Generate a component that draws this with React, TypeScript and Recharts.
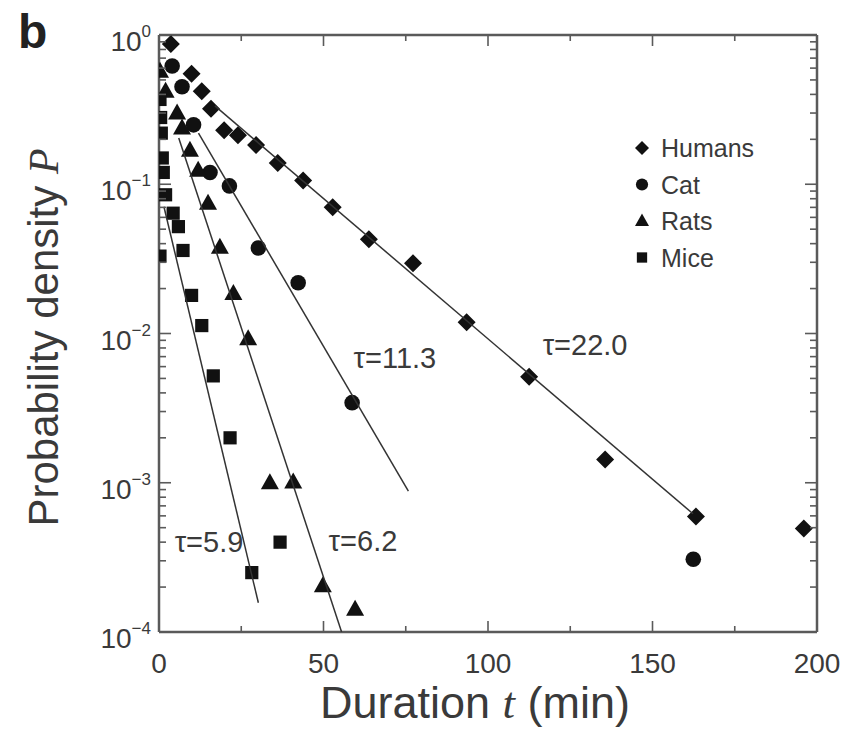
import React from 'react';
import { ComposedChart, Scatter, XAxis, YAxis, Legend, ReferenceDot, Label } from 'recharts';

// ---------------- data ----------------
const humansT = [3.6, 9.9, 13.0, 15.8, 19.8, 24.0, 29.5, 36.1, 43.8, 52.8, 63.8, 77.2, 93.5, 112.5, 135.6, 163.2, 196.0];
const humansP = [0.87, 0.55, 0.42, 0.32, 0.23, 0.213, 0.183, 0.139, 0.106, 0.070, 0.0428, 0.0296, 0.0119, 0.00514, 0.00143, 0.000594, 0.000493];

const catT = [4.0, 7.0, 10.5, 15.5, 21.4, 30.2, 42.3, 58.7, 162.4];
const catP = [0.62, 0.45, 0.25, 0.12, 0.0975, 0.0374, 0.0219, 0.00344, 0.000307];

const ratsT = [0.3, 2.0, 5.5, 7.0, 9.4, 11.9, 14.9, 18.5, 22.6, 27.1, 33.7, 40.8, 49.8, 59.6];
const ratsP = [0.57, 0.42, 0.30, 0.238, 0.169, 0.124, 0.0745, 0.0378, 0.0185, 0.0092, 0.00100, 0.00101, 0.000204, 0.000142];

const miceT = [0.3, 0.5, 0.7, 1.0, 1.3, 2.0, 4.3, 5.9, 7.3, 0.3, 9.9, 13.0, 16.5, 21.6, 28.2, 36.8];
const miceP = [0.37, 0.28, 0.22, 0.15, 0.12, 0.085, 0.064, 0.052, 0.036, 0.033, 0.018, 0.0113, 0.0052, 0.0020, 0.00025, 0.00040];

// exponential fit lines (end points)
const humansFitT = [17, 162.3];
const humansFitP = [0.335, 0.00062];
const catFitT = [12, 75.8];
const catFitP = [0.22, 0.00088];
const ratsFitT = [6, 55.5];
const ratsFitP = [0.204, 0.0001];
const miceFitT = [1.5, 30.2];
const miceFitP = [0.0707, 0.000157];

// annotations
const tauText = ['\u03C4=22.0', '\u03C4=11.3', '\u03C4=6.2', '\u03C4=5.9'];
const tauT = [129.5, 71.7, 62, 15.2];
const tauP = [0.0084, 0.0069, 0.000408, 0.000402];

// ticks
const xMajorTicks = [0, 50, 100, 150, 200];
const xMinorTicks = [25, 75, 125, 175];
const yDecades = [0.0001, 0.001, 0.01, 0.1, 1];
const yMinorMult = [2, 3, 4, 5, 6, 7, 8, 9];

const seriesNames = ['Humans', 'Cat', 'Rats', 'Mice'];

// ---------------- helpers ----------------
const FONT = '"Liberation Sans", Arial, Helvetica, sans-serif';
const TEXT = '#3a3a3a';
const INK = '#111';
const AXIS = '#5a5a5a';
const FIT = '#333';

const toPts = (ts: number[], ps: number[]) => ts.map((t, i) => ({ t, p: ps[i] }));

const humans = toPts(humansT, humansP);
const cat = toPts(catT, catP);
const rats = toPts(ratsT, ratsP);
const mice = toPts(miceT, miceP);
const humansFit = toPts(humansFitT, humansFitP);
const catFit = toPts(catFitT, catFitP);
const ratsFit = toPts(ratsFitT, ratsFitP);
const miceFit = toPts(miceFitT, miceFitP);

const xTicks = [...xMajorTicks, ...xMinorTicks].sort((a, b) => a - b);
const yTicks: number[] = [];
yDecades.forEach((d, i) => {
  yTicks.push(d);
  if (i < yDecades.length - 1) yMinorMult.forEach((m) => yTicks.push(m * d));
});

type Kind = 'diamond' | 'circle' | 'triangle' | 'square';
const kindOf: Record<string, Kind> = { Humans: 'diamond', Cat: 'circle', Rats: 'triangle', Mice: 'square' };

function Marker({ kind, cx, cy, s = 1 }: { kind: Kind; cx: number; cy: number; s?: number }) {
  if (kind === 'diamond') {
    const r = 9 * s;
    return <polygon points={`${cx},${cy - r} ${cx + r},${cy} ${cx},${cy + r} ${cx - r},${cy}`} fill={INK} />;
  }
  if (kind === 'circle') return <circle cx={cx} cy={cy} r={7.8 * s} fill={INK} />;
  if (kind === 'triangle') {
    const w = 9 * s;
    const h = 16 * s;
    return <polygon points={`${cx},${cy - h * 0.6} ${cx + w},${cy + h * 0.4} ${cx - w},${cy + h * 0.4}`} fill={INK} />;
  }
  const a = 6.6 * s;
  return <rect x={cx - a} y={cy - a} width={2 * a} height={2 * a} fill={INK} />;
}

const shapeFor = (kind: Kind) => (props: any) => {
  const { cx, cy } = props;
  if (cx == null || cy == null || isNaN(cx) || isNaN(cy)) return <g />;
  return <Marker kind={kind} cx={cx} cy={cy} />;
};
const noShape = () => <g />;

const isMajorY = (v: number) => {
  const l = Math.log10(v);
  return Math.abs(l - Math.round(l)) < 1e-9;
};

const LeftYTick = (props: any) => {
  const { x, y, payload } = props;
  const v = payload.value;
  const major = isMajorY(v);
  const exp = Math.round(Math.log10(v));
  const sup = exp === 0 ? '0' : '\u2212' + Math.abs(exp);
  return (
    <g>
      <line x1={x} x2={x + (major ? 12 : 7)} y1={y} y2={y} stroke={AXIS} strokeWidth={1.6} />
      {major && (
        <text x={x - 8} y={y + 16} textAnchor="end" fontFamily={FONT} fontSize={28} fill={TEXT}>
          <tspan>10</tspan>
          <tspan dy={-14} fontSize={17}>{sup}</tspan>
        </text>
      )}
    </g>
  );
};

const RightYTick = (props: any) => {
  const { x, y, payload } = props;
  const major = isMajorY(payload.value);
  return <line x1={x} x2={x - (major ? 12 : 7)} y1={y} y2={y} stroke={AXIS} strokeWidth={1.6} />;
};

const BottomXTick = (props: any) => {
  const { x, y, payload } = props;
  const major = xMajorTicks.includes(payload.value);
  return (
    <g>
      <line x1={x} x2={x} y1={y} y2={y - (major ? 11 : 6)} stroke={AXIS} strokeWidth={1.6} />
      {major && (
        <text x={x} y={y + 41} textAnchor="middle" fontFamily={FONT} fontSize={28} fill={TEXT}>
          {payload.value}
        </text>
      )}
    </g>
  );
};

const TopXTick = (props: any) => {
  const { x, y, payload } = props;
  const major = xMajorTicks.includes(payload.value);
  return <line x1={x} x2={x} y1={y} y2={y + (major ? 11 : 6)} stroke={AXIS} strokeWidth={1.6} />;
};

const XTitle = (props: any) => {
  const vb = props.viewBox || { x: 159, y: 632, width: 658, height: 99 };
  const cx = vb.x + vb.width / 2 - 13;
  const by = vb.y + 86;
  return (
    <text x={cx} y={by} textAnchor="middle" fontFamily={FONT} fontSize={45} fill={TEXT}>
      <tspan>Duration </tspan>
      <tspan fontStyle="italic" fontFamily='"Liberation Serif", "Times New Roman", serif'>t</tspan>
      <tspan> (min)</tspan>
    </text>
  );
};

const YTitle = (props: any) => {
  const vb = props.viewBox || { x: 0, y: 35, width: 159, height: 597 };
  const bx = vb.x + 58;
  const cy = vb.y + vb.height / 2 + 4;
  return (
    <text
      x={bx}
      y={cy}
      transform={`rotate(-90, ${bx}, ${cy})`}
      textAnchor="middle"
      fontFamily={FONT}
      fontSize={42}
      fill={TEXT}
    >
      <tspan>Probability density </tspan>
      <tspan fontStyle="italic" fontFamily='"Liberation Serif", "Times New Roman", serif'>P</tspan>
    </text>
  );
};

const tauLabel = (text: string) => (props: any) => {
  const vb = props.viewBox || { x: 0, y: 0 };
  const x = vb.x + (vb.width || 0) / 2;
  const y = vb.y + (vb.height || 0) / 2;
  return (
    <text x={x} y={y + 10} textAnchor="middle" fontFamily={FONT} fontSize={29} fill={TEXT}>
      {text}
    </text>
  );
};

const LegendContent = (props: any) => {
  const items = (props.payload || []).filter((e: any) => kindOf[e.value]);
  items.sort((a: any, b: any) => seriesNames.indexOf(a.value) - seriesNames.indexOf(b.value));
  return (
    <svg width={170} height={150} style={{ display: 'block' }}>
      {items.map((e: any, i: number) => {
        const cy = 20 + 36.5 * i;
        return (
          <g key={e.value}>
            <Marker kind={kindOf[e.value]} cx={14} cy={cy} s={0.78} />
            <text x={33} y={cy + 9} fontFamily={FONT} fontSize={25} fill={TEXT}>
              {e.value}
            </text>
          </g>
        );
      })}
    </svg>
  );
};

export default function App() {
  return (
    <div style={{ position: 'absolute', left: 0, top: 0, width: 857, height: 731, background: '#fff' }}>
      <ComposedChart width={857} height={731} margin={{ top: 34, right: 39, bottom: 0, left: 0 }}>
        <XAxis
          xAxisId="b"
          dataKey="t"
          type="number"
          domain={[0, 200]}
          ticks={xTicks}
          interval={0}
          allowDataOverflow
          height={99}
          tickSize={0}
          tickMargin={0}
          tickLine={false}
          tick={BottomXTick}
          axisLine={{ stroke: AXIS, strokeWidth: 2.5 }}
        >
          <Label content={XTitle} />
        </XAxis>
        <XAxis
          xAxisId="top"
          orientation="top"
          dataKey="t"
          type="number"
          domain={[0, 200]}
          ticks={xTicks}
          interval={0}
          allowDataOverflow
          height={1}
          tickSize={0}
          tickMargin={0}
          tickLine={false}
          tick={TopXTick}
          axisLine={{ stroke: AXIS, strokeWidth: 2.5 }}
        />
        <YAxis
          yAxisId="l"
          dataKey="p"
          type="number"
          scale="log"
          domain={[0.0001, 1]}
          ticks={yTicks}
          interval={0}
          allowDataOverflow
          width={159}
          tickSize={0}
          tickMargin={0}
          tickLine={false}
          tick={LeftYTick}
          axisLine={{ stroke: AXIS, strokeWidth: 2.5 }}
        >
          <Label content={YTitle} />
        </YAxis>
        <YAxis
          yAxisId="r"
          orientation="right"
          dataKey="p"
          type="number"
          scale="log"
          domain={[0.0001, 1]}
          ticks={yTicks}
          interval={0}
          allowDataOverflow
          width={1}
          tickSize={0}
          tickMargin={0}
          tickLine={false}
          tick={RightYTick}
          axisLine={{ stroke: AXIS, strokeWidth: 2.5 }}
        />

        <Scatter name={seriesNames[0]} data={humans} xAxisId="b" yAxisId="l" shape={shapeFor('diamond')} isAnimationActive={false} fill={INK} />
        <Scatter name={seriesNames[1]} data={cat} xAxisId="b" yAxisId="l" shape={shapeFor('circle')} isAnimationActive={false} fill={INK} />
        <Scatter name={seriesNames[2]} data={rats} xAxisId="b" yAxisId="l" shape={shapeFor('triangle')} isAnimationActive={false} fill={INK} />
        <Scatter name={seriesNames[3]} data={mice} xAxisId="b" yAxisId="l" shape={shapeFor('square')} isAnimationActive={false} fill={INK} />

        <Scatter name="fitH" legendType="none" data={humansFit} xAxisId="top" yAxisId="r" line={{ stroke: FIT, strokeWidth: 1.5 }} shape={noShape} isAnimationActive={false} />
        <Scatter name="fitC" legendType="none" data={catFit} xAxisId="top" yAxisId="r" line={{ stroke: FIT, strokeWidth: 1.5 }} shape={noShape} isAnimationActive={false} />
        <Scatter name="fitR" legendType="none" data={ratsFit} xAxisId="top" yAxisId="r" line={{ stroke: FIT, strokeWidth: 1.5 }} shape={noShape} isAnimationActive={false} />
        <Scatter name="fitM" legendType="none" data={miceFit} xAxisId="top" yAxisId="r" line={{ stroke: FIT, strokeWidth: 1.5 }} shape={noShape} isAnimationActive={false} />

        {tauText.map((txt, i) => (
          <ReferenceDot
            key={txt}
            xAxisId="b"
            yAxisId="l"
            x={tauT[i]}
            y={tauP[i]}
            r={0}
            fill="none"
            stroke="none"
            ifOverflow="visible"
          >
            <Label content={tauLabel(txt)} />
          </ReferenceDot>
        ))}

        <Legend
          layout="vertical"
          align="center"
          verticalAlign="middle"
          content={LegendContent}
          wrapperStyle={{ position: 'absolute', left: 628, top: 128, width: 170, height: 150 }}
        />
      </ComposedChart>
      <div
        style={{
          position: 'absolute',
          left: 18,
          top: 4,
          fontFamily: FONT,
          fontWeight: 'bold',
          fontSize: 48,
          color: '#222',
          lineHeight: '56px',
        }}
      >
        b
      </div>
    </div>
  );
}
